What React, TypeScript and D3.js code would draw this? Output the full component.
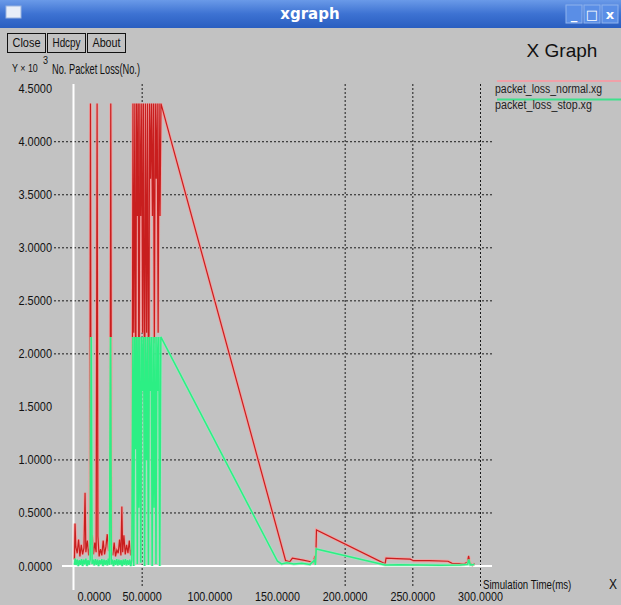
import * as d3 from "d3";

// packet loss counts over simulation time (ms)
const normalSeries: [number, number][] = [
  [0, 60], [0.4, 400], [1, 180], [2, 120], [3, 250], [4, 90], [5, 200], [6, 110], [7, 170],
  [7.8, 690], [8.4, 130], [9.5, 240], [10.5, 100], [11.3, 180], [11.8, 4360], [12.3, 200],
  [13.2, 290], [14, 110], [15, 220], [16, 130], [16.7, 4360], [17.3, 280], [18.2, 90],
  [19.2, 160], [20.2, 100], [21.2, 240], [22.2, 110], [23.2, 180], [24.2, 300], [25.2, 140],
  [26.2, 210], [26.8, 4360], [27.4, 130], [28.3, 100], [29.3, 220], [30.3, 90], [31.3, 150],
  [32.3, 120], [33.3, 250], [34.3, 100], [35, 560], [35.6, 130], [36.5, 290], [37.5, 110],
  [38.5, 200], [39.5, 120], [40.5, 240], [41.5, 100], [42.5, 180],
  [43.2, 4360], [43.8, 2200], [44.6, 4360], [45.2, 1350], [45.9, 4360], [46.5, 3300],
  [47.1, 4360], [47.6, 900], [48.3, 4360], [49, 3300], [49.7, 4360], [50.3, 2200],
  [51, 4360], [51.8, 1200], [52.5, 4360], [53.3, 2200], [54, 4360], [54.8, 1000],
  [55.5, 4360], [56.2, 3650], [56.9, 4360], [57.6, 3300], [58.3, 4360], [59, 2100],
  [59.7, 4360], [60.4, 3650], [61.1, 4360], [61.8, 2200], [62.5, 4360], [63.2, 3300],
  [63.9, 4360],
  [156, 50], [159, 40], [161, 75], [165, 65], [169, 55], [173, 45], [176.5, 30], [177.6, 95],
  [178.2, 25], [178.8, 340], [229.5, 20], [230.2, 75], [238, 70], [248, 65], [250.5, 50],
  [262, 50], [276, 45], [279, 25], [288, 20], [290.3, 35], [291.2, 95], [292.2, 30],
  [294, 10], [295.5, 25],
];

const stopSeries: [number, number][] = [
  [0, 10], [0.5, 70], [1.2, 10], [2, 60], [2.8, 0], [3.6, 55], [4.4, 10], [5.2, 65], [6, 0],
  [6.8, 60], [7.6, 15], [8.4, 70], [9.2, 0], [10, 55], [10.8, 10], [11.6, 60], [12.4, 2160],
  [13, 20], [13.8, 60], [14.6, 5], [15.4, 65], [16.2, 10], [17, 60], [17.8, 0], [18.6, 55],
  [19.4, 15], [20.2, 65], [21, 0], [21.8, 60], [22.6, 10], [23.4, 55], [24.2, 5], [25, 70],
  [25.8, 10], [26.6, 2160], [27.2, 15], [28, 60], [28.8, 0], [29.6, 55], [30.4, 10],
  [31.2, 65], [32, 5], [32.8, 60], [33.6, 10], [34.4, 55], [35.2, 0], [36, 60], [36.8, 10],
  [37.6, 65], [38.4, 5], [39.2, 55], [40, 10], [40.8, 60], [41.6, 0], [42.4, 55],
  [43.2, 2160], [43.8, 0], [44.5, 2160], [45.1, 1100], [45.8, 2160], [46.4, 20], [47, 2160],
  [47.6, 550], [48.3, 2160], [49, 30], [49.7, 2160], [50.4, 1650], [51.1, 2160], [51.8, 0],
  [52.5, 2160], [53.2, 1000], [53.9, 2160], [54.6, 10], [55.3, 2160], [56, 1650],
  [56.7, 2160], [57.4, 0], [58.1, 2160], [58.8, 550], [59.5, 2160], [60.2, 20], [60.9, 2160],
  [61.6, 1650], [62.3, 2160], [63, 0], [63.8, 2160],
  [150, 45], [153, 20], [157, 30], [162, 20], [168, 25], [174, 15], [177.4, 55], [178, 10],
  [178.6, 160], [229.5, 10], [240, 12], [255, 10], [270, 8], [285, 10], [290.5, 15],
  [291.4, 60], [292.4, 10], [295.5, 15],
];

const yTicks = [0, 500, 1000, 1500, 2000, 2500, 3000, 3500, 4000, 4500];
const yGrid = [500, 1000, 2000, 2500, 3000, 3500, 4000];
const xTicks = [0, 50, 100, 150, 200, 250, 300];
const xGrid = [50, 200, 250, 300];
const legendNames = ["packet_loss_normal.xg", "packet_loss_stop.xg"];
const buttons = ["Close", "Hdcpy", "About"];

const W = 621;
const H = 605;
const FONT = "'Liberation Sans', Arimo, sans-serif";
const BG = "#c2c2c2";

// xgraph's fonts are narrow; squeeze Liberation Sans to roughly the same width
function Narrow(props: {
  x: number;
  y: number;
  text: string;
  size?: number;
  per?: number;
  anchor?: string;
  fill?: string;
}) {
  const { x, y, text, size = 12, per = 5.4, anchor = "start", fill = "#111" } = props;
  return (
    <text
      x={x}
      y={y}
      fontSize={size}
      fill={fill}
      textAnchor={anchor}
      textLength={text.length * per}
      lengthAdjust="spacingAndGlyphs"
    >
      {text}
    </text>
  );
}

export default function App() {
  const x = d3.scaleLinear().domain([0, 300]).range([74.5, 480.5]);
  const y = d3.scaleLinear().domain([0, 4500]).range([566, 88.7]);
  const line = d3
    .line<[number, number]>()
    .x((d) => x(d[0]))
    .y((d) => y(d[1]));
  const fmt = d3.format(".4f");
  const normalPath = line(normalSeries) ?? "";
  const stopPath = line(stopSeries) ?? "";

  return (
    <svg
      width={W}
      height={H}
      style={{ position: "absolute", left: 0, top: 0, background: BG }}
      fontFamily={FONT}
    >
      <defs>
        <linearGradient id="bar" x1="0" y1="0" x2="0" y2="1">
          <stop offset="0" stopColor="#6a9ae8" />
          <stop offset="0.5" stopColor="#3d72d2" />
          <stop offset="1" stopColor="#2a5ec0" />
        </linearGradient>
      </defs>
      <rect width={W} height={H} fill={BG} />

      {/* window title bar */}
      <rect x={0} y={0} width={W} height={28} fill="url(#bar)" />
      <rect x={6} y={6} width={15} height={12} fill="#e8eef8" stroke="#9ab4e0" />
      <text x={310} y={19} textAnchor="middle" fill="#fff" fontWeight="bold" fontSize={15}
        fontFamily="'DejaVu Sans', sans-serif">xgraph</text>
      {["_", "□", "x"].map((s, i) => (
        <g key={s}>
          <rect x={566 + i * 18} y={5} width={16} height={18} fill="#5a8ee6" stroke="#8fb3ee" />
          <text x={574 + i * 18} y={19} textAnchor="middle" fill="#fff" fontSize={13}
            fontWeight="bold" fontFamily="'DejaVu Sans', sans-serif">{s}</text>
        </g>
      ))}

      {/* buttons */}
      {buttons.map((b, i) => (
        <g key={b}>
          <rect x={7.5 + i * 40} y={33.5} width={38} height={19} fill={BG} stroke="#111" />
          <Narrow x={26.5 + i * 40} y={47} text={b} size={13} anchor="middle" per={5.6} />
        </g>
      ))}
      <text x={562} y={57} textAnchor="middle" fontSize={19} fill="#111">X Graph</text>

      {/* axis captions */}
      <Narrow x={12} y={72} text="Y × 10" size={11} per={4.3} />
      <Narrow x={43} y={64} text="3" size={10} per={5} />
      <Narrow x={52} y={74} text="No. Packet Loss(No.)" size={14} per={4.4} />
      <Narrow x={483} y={589} text="Simulation Time(ms)" size={13.5} per={4.65} />
      <Narrow x={609} y={589} text="X" size={14} per={8} />

      {/* grid */}
      {yGrid.map((v) => (
        <line key={v} x1={54} x2={492} y1={y(v)} y2={y(v)} stroke="#1a1a1a"
          strokeDasharray="2,2" />
      ))}
      {xGrid.map((v) => (
        <line key={v} x1={x(v)} x2={x(v)} y1={84} y2={588} stroke="#1a1a1a"
          strokeDasharray="2,2" />
      ))}

      {/* axes */}
      <line x1={73.5} x2={73.5} y1={84} y2={590} stroke="#fff" strokeWidth={2} />
      <line x1={62} x2={492} y1={y(0)} y2={y(0)} stroke="#fff" strokeWidth={2} />

      {yTicks.map((v) => (
        <Narrow key={v} x={52} y={y(v) + 4.5} text={fmt(v / 1000)} anchor="end" size={13}
          per={5.6} />
      ))}
      {xTicks.map((v, i) => (
        <Narrow key={v} x={i === 0 ? x(v) + 3 : x(v)} y={601} text={fmt(v)} size={12.5}
          anchor={i === 0 ? "start" : "middle"} per={5.6} />
      ))}

      {/* series */}
      <path d={normalPath} fill="none" stroke="#f0a2a2" strokeWidth={3} />
      <path d={normalPath} fill="none" stroke="#c81e1e" strokeWidth={1.2} />
      <path d={stopPath} fill="none" stroke="#9fe9bf" strokeWidth={3} strokeOpacity={0.75} />
      <path d={stopPath} fill="none" stroke="#2cef84" strokeWidth={1.5} />

      {/* legend */}
      {legendNames.map((name, i) => (
        <g key={name}>
          <line x1={497} x2={W} y1={81 + i * 18.5} y2={81 + i * 18.5}
            stroke={i === 0 ? "#f0a0a8" : "#3fe08c"} strokeWidth={2} />
          <Narrow x={495} y={93 + i * 16} text={name} size={12} per={5.1} fill="#222" />
        </g>
      ))}
    </svg>
  );
}
